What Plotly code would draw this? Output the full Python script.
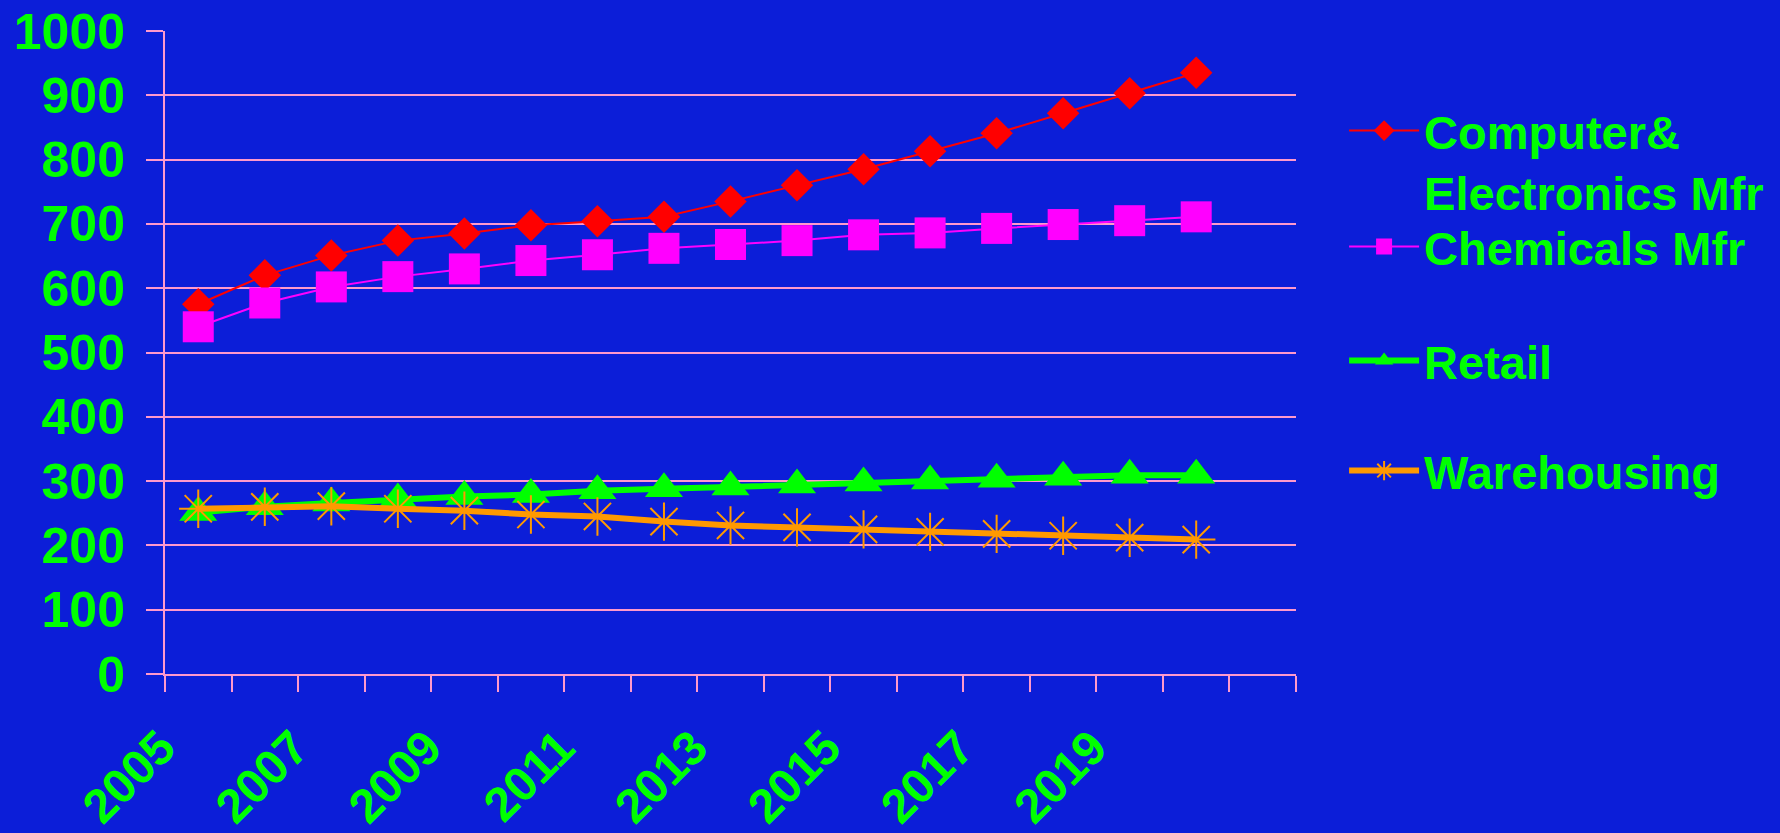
import plotly.graph_objects as go

years = list(range(2005, 2021))
computer = [575, 620, 651, 674, 685, 698, 704, 711, 735, 760, 785, 813, 841, 872, 903, 935]
chemicals = [540, 577, 602, 618, 630, 643, 652, 662, 668, 674, 683, 686, 693, 699, 705, 711]
retail = [251, 260, 266, 272, 276, 279, 285, 288, 291, 294, 297, 300, 303, 306, 309, 309]
warehousing = [257, 260, 261, 257, 254, 248, 245, 237, 231, 228, 225, 221, 218, 215, 212, 209]

series_names = ["Computer&<br>Electronics Mfr", "Chemicals Mfr", "Retail", "Warehousing"]
label_years = [2005, 2007, 2009, 2011, 2013, 2015, 2017, 2019]
y_ticks = list(range(0, 1001, 100))

BG = "#0c1ed8"
PINK = "#ff99cc"
GREEN = "#00ff00"
FONT = "Liberation Sans"

fig = go.Figure()
fig.add_trace(go.Scatter(
    x=years, y=computer, name=series_names[0], mode="lines+markers", legend="legend",
    line=dict(color="#ff0000", width=2),
    marker=dict(symbol="diamond", size=25, color="#ff0000"),
))
fig.add_trace(go.Scatter(
    x=years, y=chemicals, name=series_names[1], mode="lines+markers", legend="legend2",
    line=dict(color="#ff00ff", width=2),
    marker=dict(symbol="square", size=31, color="#ff00ff"),
))
fig.add_trace(go.Scatter(
    x=years, y=retail, name=series_names[2], mode="lines+markers", legend="legend3",
    line=dict(color=GREEN, width=6),
    marker=dict(symbol="triangle-up", size=33, color=GREEN),
))
fig.add_trace(go.Scatter(
    x=years, y=warehousing, name=series_names[3], mode="lines+markers", legend="legend4",
    line=dict(color="#ff9900", width=6),
    marker=dict(symbol="asterisk-open", size=32, color="#ff9900",
                line=dict(color="#ff9900", width=2)),
))

legend_font = dict(size=47, color=GREEN, family=FONT, weight="bold")
LX = 1.0416


def leg(y):
    return dict(x=LX, xanchor="left", y=y, yanchor="middle", font=legend_font,
                bgcolor="rgba(0,0,0,0)", valign="top", itemwidth=70)


fig.update_layout(
    width=1780, height=833,
    paper_bgcolor=BG, plot_bgcolor=BG,
    margin=dict(l=165, r=483, t=31, b=159),
    font=dict(family=FONT, color=GREEN, weight="bold"),
    showlegend=True,
    legend=leg(0.797),
    legend2=leg(0.664),
    legend3=leg(0.4868),
    legend4=leg(0.3157),
    xaxis=dict(
        range=[2004.5, 2021.5], automargin=False,
        tickmode="array", tickvals=label_years, ticktext=[str(y) for y in label_years],
        ticks="", tickangle=-45, ticklabelshift=-37, ticklabelstandoff=24,
        tickfont=dict(size=48, color=GREEN, family=FONT, weight="bold"),
        showgrid=False, zeroline=False,
        showline=True, linecolor=PINK, linewidth=2,
        minor=dict(ticks="outside", tick0=2004.5, dtick=1, ticklen=16,
                   tickcolor=PINK, tickwidth=2, showgrid=False),
    ),
    yaxis=dict(
        range=[0, 1000], tickmode="array", tickvals=y_ticks, automargin=False,
        ticks="outside", ticklen=17, tickcolor=PINK, tickwidth=2,
        ticklabelstandoff=11,
        tickfont=dict(size=50, color=GREEN, family=FONT, weight="bold"),
        showgrid=True, gridcolor=PINK, gridwidth=2,
        zeroline=False, showline=True, linecolor=PINK, linewidth=2,
    ),
)

fig.write_html(
    "out.html",
    config={"displayModeBar": False},
    post_script="document.body.style.margin='0';document.body.style.overflow='hidden';",
)
